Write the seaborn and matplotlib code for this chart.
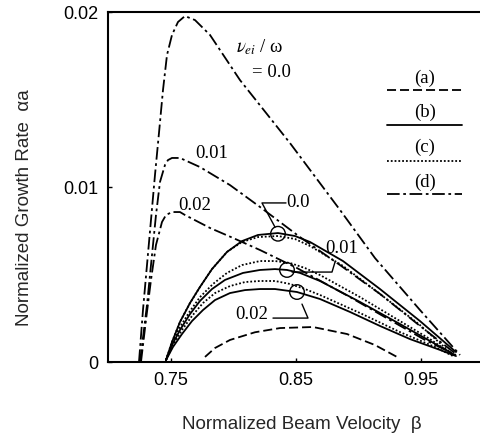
import matplotlib
matplotlib.use("Agg")
import matplotlib.pyplot as plt
import numpy as np
import pandas as pd
import seaborn as sns

# (d) dash-dot curves, nu_ei/omega = 0.0, 0.01, 0.02
d00_beta = [0.7244, 0.7276, 0.7308, 0.7340, 0.7372, 0.7404, 0.7436, 0.7468, 0.7508, 0.7556, 0.7612,
            0.7692, 0.7812, 0.7892, 0.8052, 0.8452, 0.8852, 0.9132, 0.9492, 0.9812]
d00_alpha = [0.0, 0.00297, 0.00554, 0.00811, 0.01069, 0.01309, 0.01554, 0.01754, 0.01869, 0.01943, 0.01977,
             0.01954, 0.01869, 0.01783, 0.01611, 0.01251, 0.00869, 0.00594, 0.00297, 0.0004]
d01_beta = [0.7252, 0.7308, 0.7348, 0.7380, 0.7412, 0.7452, 0.7476, 0.7508, 0.7572, 0.7732, 0.7972,
            0.8212, 0.8532, 0.8852, 0.9172, 0.9492, 0.9780]
d01_alpha = [0.0, 0.00326, 0.00611, 0.0084, 0.01029, 0.01126, 0.01154, 0.01166, 0.01166, 0.01114, 0.01011,
             0.00886, 0.00714, 0.00554, 0.00389, 0.00206, 0.00046]
d02_beta = [0.7260, 0.7300, 0.7340, 0.7380, 0.7428, 0.7460, 0.7508, 0.7572, 0.7612, 0.7812, 0.7996,
            0.8212, 0.8508, 0.8932, 0.9252, 0.9532, 0.9780]
d02_alpha = [0.0, 0.0024, 0.00469, 0.00669, 0.0080, 0.0084, 0.00857, 0.00857, 0.0084, 0.00766, 0.00709,
             0.0064, 0.00537, 0.00371, 0.0024, 0.00126, 0.0004]

# (b) solid curves
b00_beta = [0.7460, 0.7508, 0.7572, 0.7652, 0.7732, 0.7828, 0.7948, 0.8068, 0.8196, 0.8356, 0.8492,
            0.8612, 0.8876, 0.9172, 0.9492, 0.9780]
b00_alpha = [0.00011, 0.00114, 0.00229, 0.00337, 0.00429, 0.00531, 0.00629, 0.00691, 0.00726, 0.00737, 0.0072,
             0.00686, 0.00577, 0.00417, 0.00234, 0.00057]
b01_beta = [0.7460, 0.7508, 0.7572, 0.7652, 0.7732, 0.7828, 0.7932, 0.8076, 0.8212, 0.8332, 0.8428,
            0.8532, 0.8692, 0.9012, 0.9332, 0.9572, 0.9772]
b01_alpha = [0.00011, 0.00097, 0.00183, 0.00274, 0.00349, 0.00417, 0.00469, 0.00509, 0.00526, 0.00531, 0.00526,
             0.00509, 0.00463, 0.00343, 0.00217, 0.0012, 0.0004]
b02_beta = [0.7460, 0.7516, 0.7588, 0.7668, 0.7756, 0.7852, 0.7972, 0.8092, 0.8212, 0.8332, 0.8508,
            0.8692, 0.8932, 0.9172, 0.9412, 0.9652, 0.9780]
b02_alpha = [0.00011, 0.00086, 0.0016, 0.00234, 0.00297, 0.00354, 0.00394, 0.00411, 0.00417, 0.00417, 0.0040,
             0.0036, 0.00286, 0.00206, 0.00131, 0.00069, 0.00034]

# (c) dotted curves
c00_beta = [0.7460, 0.7508, 0.7572, 0.7652, 0.7732, 0.7828, 0.7948, 0.8068, 0.8196, 0.8356, 0.8492,
            0.8612, 0.8876, 0.9172, 0.9492, 0.9756]
c00_alpha = [0.00011, 0.00114, 0.00229, 0.00337, 0.00429, 0.00531, 0.00629, 0.00686, 0.00714, 0.0072, 0.00703,
             0.00663, 0.00549, 0.00389, 0.00211, 0.0004]
c01_beta = [0.7460, 0.7508, 0.7572, 0.7652, 0.7732, 0.7836, 0.7948, 0.8068, 0.8212, 0.8332, 0.8452,
            0.8572, 0.8692, 0.9012, 0.9332, 0.9572, 0.9756]
c01_alpha = [0.00011, 0.00109, 0.0020, 0.00291, 0.00371, 0.00446, 0.00509, 0.00554, 0.00577, 0.00577, 0.00566,
             0.00537, 0.00497, 0.00371, 0.00234, 0.00131, 0.0004]
c02_beta = [0.7460, 0.7516, 0.7588, 0.7668, 0.7756, 0.7852, 0.7972, 0.8092, 0.8212, 0.8332, 0.8452,
            0.8572, 0.8692, 0.9012, 0.9332, 0.9612, 0.9756]
c02_alpha = [0.00011, 0.00097, 0.00183, 0.00263, 0.00337, 0.00394, 0.00434, 0.00457, 0.00463, 0.00463, 0.00446,
             0.00417, 0.00383, 0.0028, 0.00171, 0.00086, 0.00034]

# (a) dashed curve
a_beta = [0.7772, 0.7852, 0.7972, 0.8172, 0.8372, 0.8636, 0.8908, 0.9132, 0.9308]
a_alpha = [0.00029, 0.0008, 0.00126, 0.0017, 0.00194, 0.0020, 0.0016, 0.00097, 0.00029]

# circled points on the solid curves
circle_beta = [0.8356, 0.8428, 0.8508]
circle_alpha = [0.00733, 0.00526, 0.00400]

xticks = [0.75, 0.85, 0.95]
yticks = [0, 0.01, 0.02]
ytick_labels = ["0", "0.01", "0.02"]

styles = {
    "a": (0, (5, 2.2)),
    "b": "-",
    "c": (0, (1, 1.1)),
    "d": (0, (7, 2, 1.5, 2)),
}

curves = [
    (a_beta, a_alpha, "a"),
    (b00_beta, b00_alpha, "b"), (b01_beta, b01_alpha, "b"), (b02_beta, b02_alpha, "b"),
    (c00_beta, c00_alpha, "c"), (c01_beta, c01_alpha, "c"), (c02_beta, c02_alpha, "c"),
    (d00_beta, d00_alpha, "d"), (d01_beta, d01_alpha, "d"), (d02_beta, d02_alpha, "d"),
]

sns.set_style("ticks")
plt.rcParams["font.family"] = ["Liberation Sans", "DejaVu Sans"]
plt.rcParams["mathtext.fontset"] = "stix"

fig = plt.figure(figsize=(4.81, 4.37), dpi=100)
ax = fig.add_axes([0.2245, 0.1716, 0.7755, 0.8009])

for bx, ay, kind in curves:
    df = pd.DataFrame({"beta": bx, "alpha": ay})
    sns.lineplot(data=df, x="beta", y="alpha", ax=ax, color="black", linewidth=1.3,
                 linestyle=styles[kind], sort=False, estimator=None)

sns.scatterplot(x=circle_beta, y=circle_alpha, ax=ax, s=110, facecolor="none",
                edgecolor="black", linewidth=1.0, zorder=5)

serif = ["Liberation Serif", "DejaVu Serif"]
tkw = dict(family=serif, fontsize=13.5, color="black")

# curve labels
ax.text(0.8212, 0.0180, r"$\nu_{ei}$ / ω", ha="center", va="center", **tkw)
ax.text(0.8300, 0.01657, "= 0.0", ha="center", va="center", **tkw)
ax.text(0.7828, 0.01194, "0.01", ha="center", va="center", **tkw)
ax.text(0.7692, 0.00897, "0.02", ha="center", va="center", **tkw)

# leader labels
ax.text(0.8425, 0.00909, "0.0", ha="left", va="center", **tkw)
ax.plot([0.8420, 0.8228, 0.8332], [0.00909, 0.00909, 0.00771], color="black", lw=1.0)
ax.text(0.8868, 0.00651, "0.01", ha="center", va="center", **tkw)
ax.plot([0.8812, 0.8788, 0.8468], [0.00571, 0.00514, 0.00514], color="black", lw=1.0)
ax.text(0.8148, 0.00269, "0.02", ha="center", va="center", **tkw)
ax.plot([0.8316, 0.8596, 0.8548], [0.00251, 0.00251, 0.00331], color="black", lw=1.0)

# legend keys
for label, ty, ly in [("a", 0.01623, 0.01554), ("b", 0.01429, 0.01354),
                      ("c", 0.01229, 0.01149), ("d", 0.01029, 0.0096)]:
    ax.text(0.9532, ty, f"({label})", ha="center", va="center", **tkw)
    ax.plot([0.9228, 0.9828], [ly, ly], color="black", lw=1.3, linestyle=styles[label])

ax.set_xlim(0.6996, 0.998)
ax.set_ylim(0, 0.02)
ax.set_xticks(xticks)
ax.set_xticklabels([f"{t:.2f}" for t in xticks])
ax.set_yticks(yticks)
ax.set_yticklabels(ytick_labels)
ax.tick_params(direction="in", length=3, width=1, labelsize=13, pad=7, colors="black")
for side in ["left", "bottom", "top"]:
    ax.spines[side].set_linewidth(1.5)
    ax.spines[side].set_color("black")
ax.spines["right"].set_visible(False)

ax.set_xlabel("Normalized Beam Velocity  β", fontsize=13.5)
ax.set_ylabel("Normalized Growth Rate  αa", fontsize=13.5)
ax.xaxis.set_label_coords(0.52, -0.155)
ax.yaxis.set_label_coords(-0.20, 0.44)

fig.savefig("out.png", dpi=100)
